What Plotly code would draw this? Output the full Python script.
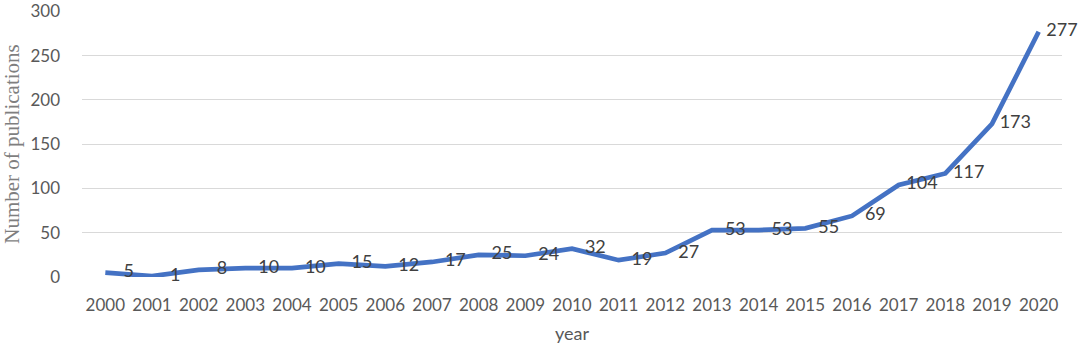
import plotly.graph_objects as go

years = list(range(2000, 2021))
publications = [5, 1, 8, 10, 10, 15, 12, 17, 25, 24, 32, 19, 27, 53, 53, 55, 69, 104, 117, 173, 277]
y_ticks = [0, 50, 100, 150, 200, 250, 300]

label_x = [y + 0.5 for y in years]

fig = go.Figure()
fig.add_trace(go.Scatter(
    x=years, y=publications, mode="lines",
    line=dict(color="#4472C4", width=4.7),
    hoverinfo="x+y", showlegend=False,
))
fig.add_trace(go.Scatter(
    x=label_x, y=publications, mode="text",
    text=[str(v) for v in publications], textposition="middle center",
    textfont=dict(family="Lato", size=18, color="#404040"),
    cliponaxis=False, showlegend=False, hoverinfo="skip",
))

fig.update_layout(
    width=1084, height=352,
    margin=dict(l=82, r=22, t=11, b=75, autoexpand=False),
    paper_bgcolor="white", plot_bgcolor="white",
    font=dict(family="Lato", color="#595959", size=17),
)
fig.update_xaxes(
    range=[1999.5, 2020.5], tickmode="array", tickvals=years,
    ticktext=[str(y) for y in years], showgrid=False, zeroline=False,
    showline=False, ticks="", tickangle=0, automargin=False,
    ticklabelstandoff=16,
    tickfont=dict(family="Lato", size=17, color="#595959"),
    title=dict(text="year", font=dict(family="Lato", size=18, color="#595959"), standoff=13),
)
fig.update_yaxes(
    range=[0, 300.5], tickmode="array", tickvals=y_ticks,
    showgrid=True, gridcolor="#D9D9D9", gridwidth=1.3, zeroline=False,
    showline=False, ticks="", automargin=False,
    ticklabelstandoff=21,
    tickfont=dict(family="Lato", size=17, color="#595959"),
    title=dict(text="Number of publications",
               font=dict(family="Liberation Serif", size=21, color="#7F7F7F"), standoff=5),
)
fig.write_html("out.html", post_script="document.body.style.margin='0';",
               config={"displayModeBar": False})
